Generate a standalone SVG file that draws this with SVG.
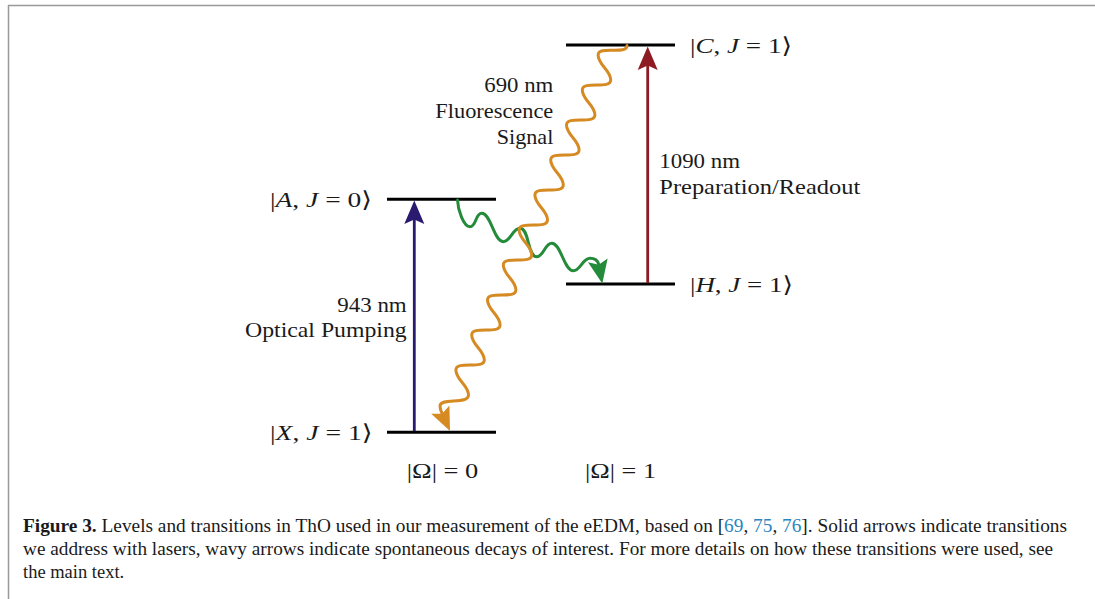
<svg xmlns="http://www.w3.org/2000/svg" xmlns:xlink="http://www.w3.org/1999/xlink" width="1095" height="599" viewBox="0 0 1095 599">
<style>
.lvl{stroke:#000;stroke-width:3;fill:none}
.wave{fill:none;stroke-width:3;stroke-linecap:round;stroke-linejoin:round}
.beam{fill:none;stroke-width:2.8}
.t{font-family:"Liberation Serif","DejaVu Serif",serif;font-size:22px;fill:#1a1a1a}
.m{font-family:"Liberation Serif","DejaVu Serif","DejaVu Sans",serif;font-size:22px;fill:#1a1a1a}
.i{font-style:italic}
.cap{font-family:"Liberation Serif","DejaVu Serif",serif;font-size:18.5px;fill:#1a1a1a}
.ref{fill:#2a86c0}
</style>
<defs>
<path id="ah" d="M0,0 L-23.5,-10 L-19,0 L-23.5,10 Z"/>
</defs>
<rect width="1095" height="599" fill="#fff"/>
<g id="frame" stroke="#999" stroke-width="1.5" fill="none">
<path d="M8,5.5 H1095 M8.5,5 V599"/>
</g>
<g id="level-C"><line class="lvl" x1="566" y1="45" x2="675" y2="45"/>
<text class="m" x="690" y="53" textLength="102" lengthAdjust="spacingAndGlyphs">|<tspan class="i">C</tspan>, <tspan class="i">J</tspan> = 1⟩</text></g>
<g id="level-H"><line class="lvl" x1="566" y1="284" x2="675" y2="284"/>
<text class="m" x="690" y="291.5" textLength="103" lengthAdjust="spacingAndGlyphs">|<tspan class="i">H</tspan>, <tspan class="i">J</tspan> = 1⟩</text></g>
<g id="level-A"><line class="lvl" x1="387" y1="199.3" x2="496" y2="199.3"/>
<text class="m" x="372" y="206.5" text-anchor="end" textLength="102" lengthAdjust="spacingAndGlyphs">|<tspan class="i">A</tspan>, <tspan class="i">J</tspan> = 0⟩</text></g>
<g id="level-X"><line class="lvl" x1="387" y1="432.3" x2="496" y2="432.3"/>
<text class="m" x="372.5" y="439.5" text-anchor="end" textLength="102.5" lengthAdjust="spacingAndGlyphs">|<tspan class="i">X</tspan>, <tspan class="i">J</tspan> = 1⟩</text></g>
<g id="omega-labels">
<text class="m" x="406.7" y="477.5" textLength="71.6" lengthAdjust="spacingAndGlyphs">|Ω| = 0</text>
<text class="m" x="585" y="477.5" textLength="71" lengthAdjust="spacingAndGlyphs">|Ω| = 1</text>
</g>
<g id="connectors">
<g id="pump" fill="#2a1a70" stroke="#2a1a70">
<line class="beam" x1="414.3" y1="431" x2="414.3" y2="218"/>
<use xlink:href="#ah" href="#ah" stroke="none" transform="translate(414.3,200.5) rotate(-90)"/>
</g>
<g id="readout" fill="#8e1b24" stroke="#8e1b24">
<line class="beam" x1="647.7" y1="283" x2="647.7" y2="64"/>
<use xlink:href="#ah" href="#ah" stroke="none" transform="translate(647.7,46.5) rotate(-90)"/>
</g>
<g id="decay-AH" fill="#238b3a">
<path class="wave" stroke="#238b3a" d="M457.5,200 C458,210 463.5,226.7 470,226.7 C476.5,226.7 475.2,213.3 481.7,213.3 C491.2,213.3 493.8,241.7 503.3,241.7 C510.5,241.7 512.5,228.3 520,228.3 C529.5,228.3 527.2,256.7 536.7,256.7 C543.5,256.7 545,243.3 551.7,243.3 C561.2,243.3 563.8,270.7 573.3,270.7 C580.5,270.7 582.5,258.3 590,258.3 C595,258.3 597.6,260 598.7,264.4"/>
<use xlink:href="#ah" href="#ah" transform="translate(602.3,283.5) rotate(79)"/>
</g>
<g id="decay-CX" fill="#d68a22">
<path class="wave" stroke="#d68a22" d="M627,45.5 C627,55.5 598.1,45 598.1,55 S610.7,70 610.7,80 S582.3,80 582.3,90 S594.9,105 594.9,115 S566.5,115 566.5,125 S579.1,140 579.1,150 S550.7,150 550.7,160 S563.3,175 563.3,185 S534.9,185 534.9,195 S547.5,210 547.5,220 S519.1,220 519.1,230 S531.7,245 531.7,255 S503.3,255 503.3,265 S515.9,280 515.9,290 S487.5,290 487.5,300 S500.1,315 500.1,325 S471.7,325 471.7,335 S484.3,350 484.3,360 S455.9,360 455.9,370 S468.5,385 468.5,395 S440,397 440,406 C440,409.5 441,411.5 442.2,413.7"/>
<use xlink:href="#ah" href="#ah" transform="translate(450,431) rotate(65.6)"/>
</g>
</g>
<g id="label-690">
<text class="t" x="553.3" y="92" text-anchor="end" textLength="69" lengthAdjust="spacingAndGlyphs">690 nm</text>
<text class="t" x="553.3" y="118" text-anchor="end" textLength="118" lengthAdjust="spacingAndGlyphs">Fluorescence</text>
<text class="t" x="553.3" y="143.5" text-anchor="end" textLength="56.6" lengthAdjust="spacingAndGlyphs">Signal</text>
</g>
<g id="label-1090">
<text class="t" x="659.3" y="168" textLength="80.7" lengthAdjust="spacingAndGlyphs">1090 nm</text>
<text class="t" x="659.3" y="194" textLength="201" lengthAdjust="spacingAndGlyphs">Preparation/Readout</text>
</g>
<g id="label-943">
<text class="t" x="406.7" y="311.5" text-anchor="end" textLength="69.4" lengthAdjust="spacingAndGlyphs">943 nm</text>
<text class="t" x="406.7" y="337" text-anchor="end" textLength="161.7" lengthAdjust="spacingAndGlyphs">Optical Pumping</text>
</g>
<g id="caption">
<text class="cap" x="23" y="532" textLength="1044" lengthAdjust="spacingAndGlyphs"><tspan font-weight="bold">Figure 3.</tspan> Levels and transitions in ThO used in our measurement of the eEDM, based on [<tspan class="ref">69</tspan>, <tspan class="ref">75</tspan>, <tspan class="ref">76</tspan>]. Solid arrows indicate transitions</text>
<text class="cap" x="23" y="555" textLength="1030" lengthAdjust="spacingAndGlyphs">we address with lasers, wavy arrows indicate spontaneous decays of interest. For more details on how these transitions were used, see</text>
<text class="cap" x="23" y="578">the main text.</text>
</g>
</svg>
